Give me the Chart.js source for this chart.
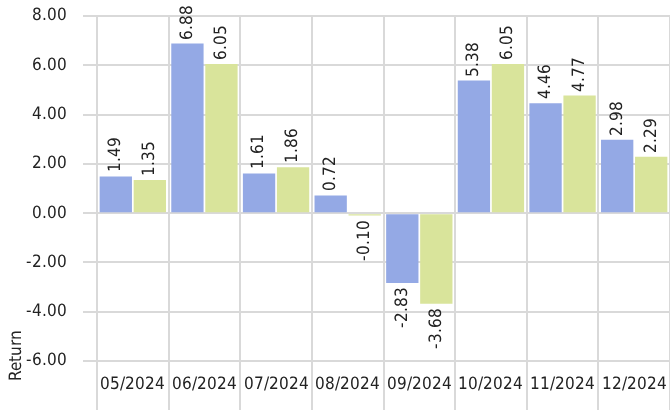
<!DOCTYPE html>
<html>
<head>
<meta charset="utf-8">
<script src="https://cdn.jsdelivr.net/npm/chart.js@4/dist/chart.umd.min.js"></script>
<style>
  @font-face {
    font-family: 'NarrowFace';
    src: local('Liberation Sans Narrow'), local('LiberationSansNarrow'), local('LiberationSansNarrow-Regular'),
         local('DejaVu Sans Condensed'), local('DejaVuSansCondensed');
  }
  html, body { margin: 0; padding: 0; background: #fff; }
  #wrap { width: 670px; height: 410px; }
</style>
</head>
<body>
<div id="wrap"><canvas id="returnChart"></canvas></div>
<script>
const months = ['05/2024', '06/2024', '07/2024', '08/2024', '09/2024', '10/2024', '11/2024', '12/2024'];
const seriesA = [1.49, 6.88, 1.61, 0.72, -2.83, 5.38, 4.46, 2.98];
const seriesB = [1.35, 6.05, 1.86, -0.10, -3.68, 6.05, 4.77, 2.29];
const yTicks = [-6, -4, -2, 0, 2, 4, 6, 8];

const fontFamily = "'NarrowFace', Roboto, sans-serif";
const fontSize = 17;
const gridColor = '#d9d9d9';
const textColor = '#222';

// rotated value labels at the end of each bar
const barLabels = {
    id: 'barLabels',
    afterDatasetsDraw(chart) {
        const ctx = chart.ctx;
        ctx.save();
        ctx.font = fontSize + 'px ' + fontFamily;
        ctx.fillStyle = textColor;
        ctx.textBaseline = 'middle';
        chart.data.datasets.forEach(function (ds, i) {
            chart.getDatasetMeta(i).data.forEach(function (bar, j) {
                const v = ds.data[j];
                ctx.save();
                ctx.translate(bar.x, bar.y);
                ctx.rotate(-Math.PI / 2);
                if (v >= 0) {
                    ctx.textAlign = 'left';
                    ctx.fillText(v.toFixed(2), 4, 0);
                } else {
                    ctx.textAlign = 'right';
                    ctx.fillText(v.toFixed(2), -4, 0);
                }
                ctx.restore();
            });
        });
        ctx.restore();
    }
};

// y axis title sits low, near the bottom of the axis
const axisTitle = {
    id: 'axisTitle',
    afterDraw(chart) {
        const ctx = chart.ctx;
        ctx.save();
        ctx.font = fontSize + 'px ' + fontFamily;
        ctx.fillStyle = textColor;
        ctx.textAlign = 'left';
        ctx.textBaseline = 'middle';
        ctx.translate(17, 381);
        ctx.rotate(-Math.PI / 2);
        ctx.fillText('Return', 0, 0);
        ctx.restore();
    }
};

function drawChart() {
    new Chart(document.getElementById('returnChart'), {
        type: 'bar',
        data: {
            labels: months,
            datasets: [
                { label: 'Series A', data: seriesA, backgroundColor: '#94a9e5', categoryPercentage: 0.95, barPercentage: 0.95 },
                { label: 'Series B', data: seriesB, backgroundColor: '#d9e49b', categoryPercentage: 0.95, barPercentage: 0.95 }
            ]
        },
        options: {
            responsive: true,
            maintainAspectRatio: false,
            animation: false,
            layout: { padding: { top: 16, right: 0, bottom: 0, left: 0 } },
            plugins: {
                legend: { display: false },
                tooltip: { enabled: false }
            },
            scales: {
                x: {
                    offset: true,
                    grid: { color: gridColor, lineWidth: 2, offset: true, tickLength: 49 },
                    border: { color: gridColor, width: 2 },
                    ticks: { color: textColor, padding: -36, font: { family: fontFamily, size: fontSize }, maxRotation: 0 },
                    afterFit: function (s) { s.height = 49; }
                },
                y: {
                    min: -6,
                    max: 8,
                    afterBuildTicks: function (s) { s.ticks = yTicks.map(v => ({ value: v })); },
                    grid: { color: gridColor, lineWidth: 2, tickLength: 14 },
                    border: { color: gridColor, width: 2 },
                    ticks: {
                        color: textColor,
                        padding: 16,
                        font: { family: fontFamily, size: fontSize },
                        callback: function (v) { return Number(v).toFixed(2); }
                    },
                    afterFit: function (s) {
                        s.width = 97;
                        s.paddingTop = 0;
                        s.paddingBottom = 0;
                    }
                }
            }
        },
        plugins: [barLabels, axisTitle]
    });
}

document.fonts.load(fontSize + "px 'NarrowFace'").then(drawChart, drawChart);
</script>
</body>
</html>
